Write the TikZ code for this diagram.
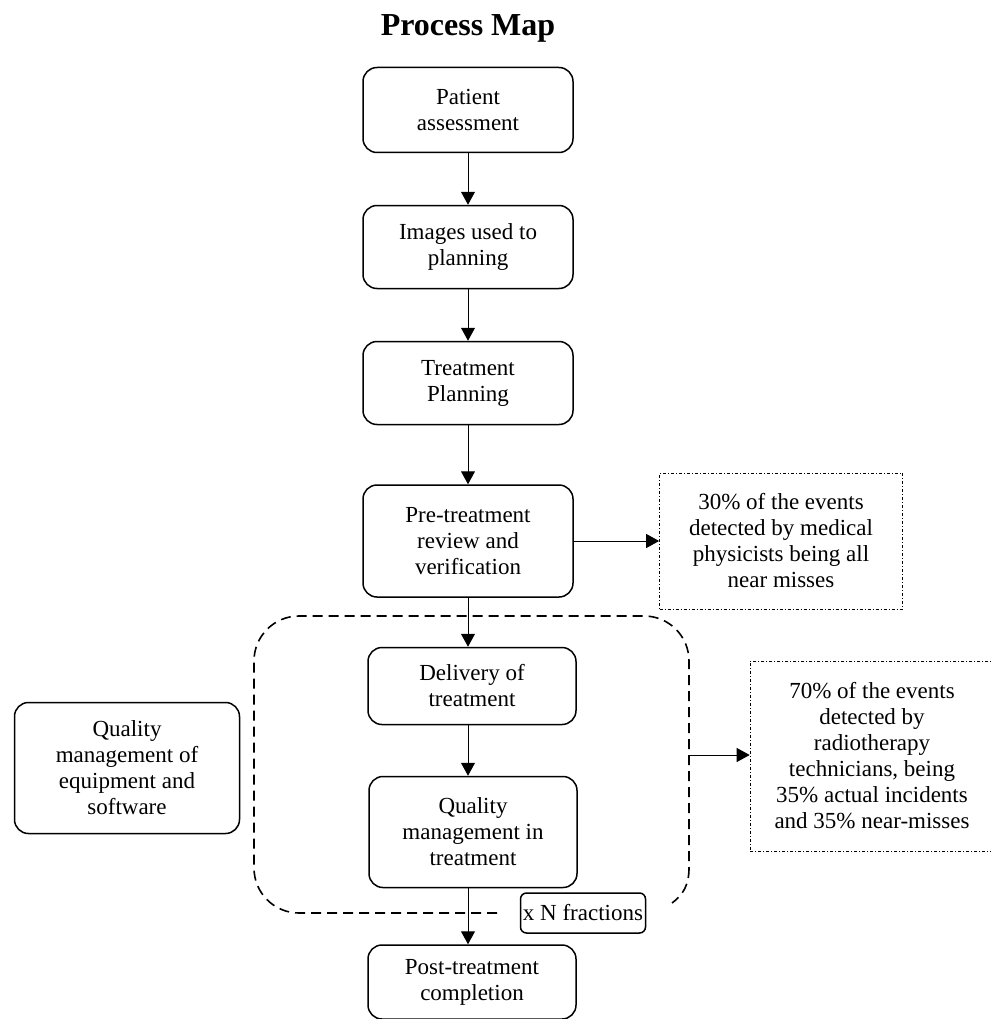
\documentclass[tikz,border=0pt]{standalone}
\usepackage{fontspec}
\setmainfont{Liberation Serif}
\usetikzlibrary{arrows.meta, positioning}

\begin{document}
\begin{tikzpicture}[x=1pt, y=-1pt,
    stepbox/.style={draw, line width=1.5pt, rounded corners=14pt, align=center,
      font=\fontsize{23}{26}\selectfont, inner sep=0pt, minimum width=210pt},
    notebox/.style={draw, line width=0.7pt, dash pattern=on 3pt off 2pt on 1pt off 2pt,
      align=center, font=\fontsize{23}{26}\selectfont, inner sep=0pt},
    flow/.style={-{Triangle[length=13pt, width=14pt]}, line width=1pt}]
  \useasboundingbox (0,0) rectangle (990,1019);

  \node[font=\bfseries\fontsize{32}{36}\selectfont, anchor=base] (title) at (468,36) {Process Map};

  % main chain
  \node[stepbox, minimum height=85pt] (assess) at (468,110) {Patient\\assessment};
  \node[stepbox, minimum height=83pt] (images) at (468,247) {Images used to\\planning};
  \node[stepbox, minimum height=83pt] (planning) at (468,383) {Treatment\\Planning};
  \node[stepbox, minimum height=112pt] (review) at (468,541) {Pre-treatment\\review and\\verification};
  \node[stepbox, minimum width=208pt, minimum height=77pt] (delivery) at (472,686) {Delivery of\\treatment};
  \node[stepbox, minimum width=208pt, minimum height=111pt] (qmtreat) at (473,832) {Quality\\management in\\treatment};
  \node[stepbox, minimum width=208pt, minimum height=74pt] (post) at (472,982) {Post-treatment\\completion};

  % side boxes
  \node[stepbox, minimum width=225pt, minimum height=131pt] (qmequip) at (127,768)
    {Quality\\management of\\equipment and\\software};
  \node[notebox, minimum width=243pt, minimum height=136pt] (physics) at (781,541)
    {30\% of the events\\detected by medical\\physicists being all\\near misses};
  \node[notebox, minimum width=244pt, minimum height=190pt] (techs) at (872,756)
    {70\% of the events\\detected by\\radiotherapy\\technicians, being\\35\% actual incidents\\and 35\% near-misses};

  % repeated fractions loop
  \draw[line width=1.6pt, dash pattern=on 10pt off 6pt, rounded corners=45pt]
    (497,913) -- (254,913) -- (254,616) -- (689,616) -- (689,868);
  \draw[line width=1.6pt, dash pattern=on 10pt off 6pt]
    (689,868) .. controls (689,885) and (683,895) .. (672,903);
  \coordinate (loopR) at (689,755);
  \node[draw, line width=1.5pt, rounded corners=6pt, fill=white, inner sep=0pt,
    minimum width=125pt, minimum height=40pt, font=\fontsize{23}{26}\selectfont]
    (fractions) at (583,913) {x N fractions};

  \draw[flow] (assess) -- (images);
  \draw[flow] (images) -- (planning);
  \draw[flow] (planning) -- (review);
  \draw[flow] (review.south) -- (review.south |- delivery.north);
  \draw[flow] (delivery.south -| review.south) -- (review.south |- qmtreat.north);
  \draw[flow] (review.south |- qmtreat.south) -- (review.south |- post.north);
  \draw[flow] (review) -- (physics);
  \draw[flow] (loopR) -- (loopR -| techs.west);
\end{tikzpicture}
\end{document}
